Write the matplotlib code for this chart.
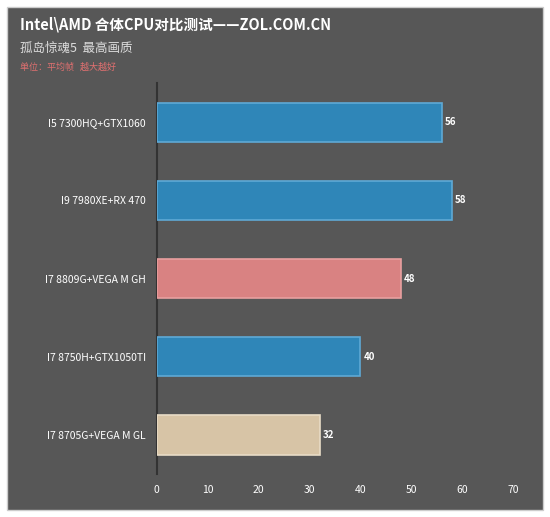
import matplotlib
matplotlib.use("Agg")
import matplotlib.pyplot as plt
import numpy as np
from matplotlib.patches import Rectangle

plt.rcParams['font.family'] = ['Noto Sans CJK SC', 'DejaVu Sans']

labels = ["I5 7300HQ+GTX1060", "I9 7980XE+RX 470", "I7 8809G+VEGA M GH",
          "I7 8750H+GTX1050TI", "I7 8705G+VEGA M GL"]
values = [56, 58, 48, 40, 32]
colors = ["#2f86b8", "#2f86b8", "#d98282", "#2f86b8", "#d7c4a6"]
edges = ["#5fa9d6", "#5fa9d6", "#e8a0a0", "#5fa9d6", "#e8dcc6"]
ticks = [0, 10, 20, 30, 40, 50, 60, 70]

bg = "#575757"
fig = plt.figure(figsize=(5.5, 5.17), dpi=100)
fig.patch.set_facecolor("white")
fig.add_artist(Rectangle((7/550, 7/517), 536/550, 503/517, transform=fig.transFigure,
                         facecolor=bg, edgecolor="#cccccc", lw=1, zorder=0))
ax = fig.add_axes([0.285, 0.083, 0.648, 0.756])
ax.set_facecolor(bg)
ax.patch.set_alpha(0)
y = np.arange(len(labels))
ax.barh(y, values, height=0.5, color=colors, edgecolor=edges, linewidth=1.2, zorder=3)
for yi, v in zip(y, values):
    ax.text(v + 0.6, yi, str(v), va="center", ha="left", color="white", fontsize=7, fontweight="bold")
ax.set_yticks(y)
ax.set_yticklabels(labels, color="white", fontsize=7.5)
ax.set_ylim(4.5, -0.5)
ax.set_xlim(0, 70)
ax.set_xticks(ticks)
ax.set_xticklabels([str(t) for t in ticks], color="white", fontsize=7.5)
ax.tick_params(length=0, pad=8)
for s in ["top", "right", "bottom"]:
    ax.spines[s].set_visible(False)
ax.spines["left"].set_color("#333333")
ax.spines["left"].set_linewidth(1.5)

fig.text(20/550, 1-25/517, "Intel\\AMD 合体CPU对比测试——ZOL.COM.CN", color="white",
         fontsize=10.5, fontweight="bold", va="center")
fig.text(20/550, 1-48/517, "孤岛惊魂5  最高画质", color="#dddddd", fontsize=9, va="center")
fig.text(20/550, 1-67/517, "单位：平均帧   越大越好", color="#e07070", fontsize=6.5, va="center")
fig.savefig("out.png", dpi=100, facecolor="white")
